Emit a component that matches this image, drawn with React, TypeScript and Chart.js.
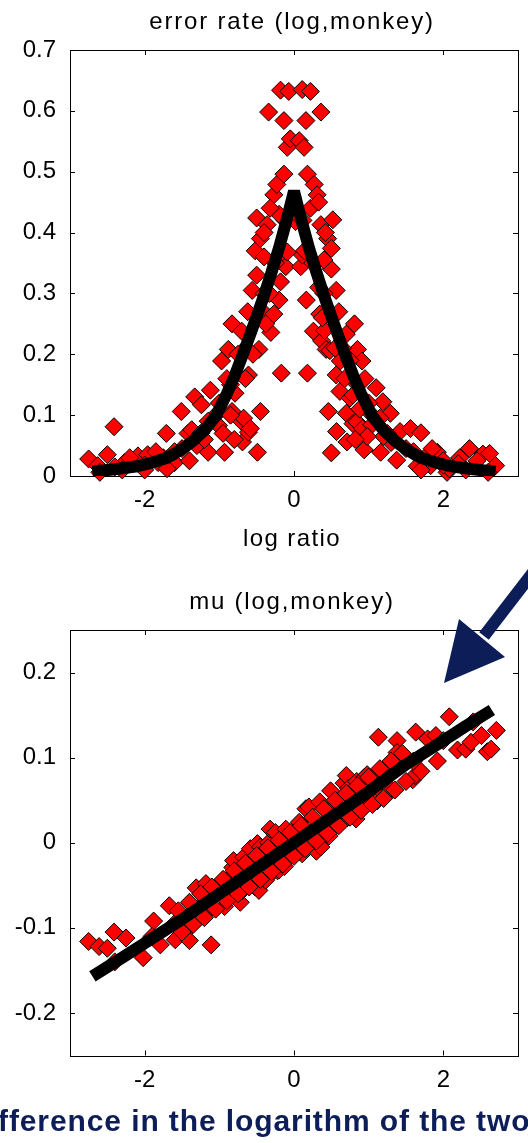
import React, { useEffect, useRef } from 'react';
import { Chart, registerables } from 'chart.js';

Chart.register(...registerables);

const FONT = '"Liberation Sans", Arial, Helvetica, sans-serif';

// ---------- error rate (log, monkey) ----------
const errPointX = [
  -2.75, -2.63, -2.5, -2.41, -2.27, -2.09, -1.96, -1.82, -1.71, -1.6, -1.51, -1.42, -1.4, -1.37, -1.33, -1.24,
  -1.15, -1.12, -1.01, -0.97, -0.93, -0.88, -0.83, -0.83, -0.79, -0.7, -0.7, -0.69, -0.675, -0.61, -0.61, -0.585,
  -0.56, -0.52, -0.5, -0.49, -0.47, -0.45, -0.45, -0.43, -0.36, -0.34, -0.31, -0.27, -0.27, -0.23, -0.2, -0.18,
  -0.18, -0.17, -0.157, -0.135, -0.135, -0.11, -0.09, -0.09, -0.07, -0.05,
  -2.6, -2.3, -2.0, -1.75, -1.5, -1.25, -1.05, -0.85, -0.65, -0.4, -0.25, -0.12,
  -0.62, -0.5, -0.4, -0.33, -0.38, -0.55, -0.65, -0.75, -0.9, -1.0, -1.15, -0.85, -1.3, -1.6, -1.85, -2.2,
  -2.4, -2.0, -1.7, -1.2, -0.95, -0.8, -0.2, -0.32, -0.4,
  0.02, 0.07, 0.09, 0.11, 0.114, 0.14, 0.135, 0.16, 0.165, 0.18, 0.18, 0.22, 0.26, 0.27, 0.31, 0.345,
  0.36, 0.36, 0.37, 0.41, 0.43, 0.45, 0.46, 0.48, 0.5, 0.5, 0.52, 0.565, 0.565, 0.57, 0.615, 0.62,
  0.7, 0.7, 0.71, 0.75, 0.79, 0.79, 0.81, 0.85, 0.84, 0.91, 0.92, 0.94, 1.04, 1.1, 1.16, 1.19,
  1.29, 1.375, 1.42, 1.56, 1.65, 1.7, 1.83, 1.92, 2.05, 2.08, 2.22, 2.35, 2.53, 2.62, 2.7,
  0.12, 0.25, 0.4, 0.65, 0.85, 1.05, 1.25, 1.5, 1.75, 2.0, 2.3, 2.6,
  0.6, 0.5, 0.4, 0.33, 0.38, 0.55, 0.68, 0.75, 0.95, 1.0, 1.15, 0.88, 1.3, 1.6, 1.85, 2.2,
  2.45, 2.0, 1.7, 1.2, 0.98, 0.82, 0.22, 0.33, 0.42,
];
const errPointY = [
  0.028, 0.017, 0.035, 0.081, 0.022, 0.033, 0.035, 0.022, 0.07, 0.022, 0.106, 0.07, 0.025, 0.076, 0.13, 0.117,
  0.039, 0.141, 0.083, 0.189, 0.039, 0.208, 0.25, 0.106, 0.136, 0.238, 0.089, 0.056, 0.095, 0.166, 0.072, 0.078,
  0.305, 0.37, 0.424, 0.039, 0.208, 0.39, 0.106, 0.272, 0.413, 0.598, 0.236, 0.462, 0.266, 0.479, 0.289, 0.634,
  0.319, 0.169, 0.363, 0.584, 0.496, 0.344, 0.54, 0.368, 0.632, 0.554,
  0.006, 0.01, 0.018, 0.03, 0.045, 0.07, 0.1, 0.15, 0.21, 0.3, 0.35, 0.42,
  0.27, 0.33, 0.36, 0.3, 0.25, 0.2, 0.16, 0.2, 0.16, 0.12, 0.09, 0.1, 0.05, 0.04, 0.04, 0.03,
  0.015, 0.01, 0.012, 0.06, 0.07, 0.06, 0.43, 0.44, 0.4,
  0.418, 0.551, 0.344, 0.635, 0.363, 0.37, 0.54, 0.584, 0.289, 0.496, 0.169, 0.632, 0.238, 0.479, 0.462, 0.266,
  0.598, 0.413, 0.222, 0.239, 0.208, 0.39, 0.106, 0.206, 0.374, 0.038, 0.421, 0.305, 0.166, 0.073, 0.139, 0.189,
  0.233, 0.103, 0.056, 0.128, 0.133, 0.086, 0.25, 0.208, 0.089, 0.189, 0.078, 0.043, 0.084, 0.145, 0.039, 0.122,
  0.103, 0.026, 0.073, 0.078, 0.016, 0.071, 0.017, 0.039, 0.006, 0.012, 0.03, 0.045, 0.036, 0.037, 0.017,
  0.42, 0.35, 0.3, 0.21, 0.15, 0.1, 0.07, 0.045, 0.03, 0.018, 0.01, 0.006,
  0.27, 0.34, 0.355, 0.31, 0.26, 0.21, 0.16, 0.19, 0.16, 0.12, 0.095, 0.11, 0.055, 0.04, 0.045, 0.02,
  0.025, 0.025, 0.01, 0.065, 0.065, 0.06, 0.44, 0.45, 0.4,
];
const errFitX = [
  -2.7, -2.4, -2.1, -1.9, -1.7, -1.5, -1.35, -1.2, -1.05, -0.9, -0.8, -0.7, -0.6, -0.5, -0.4, -0.3, -0.2, -0.1, 0,
  0.1, 0.2, 0.3, 0.4, 0.5, 0.6, 0.7, 0.8, 0.9, 1.05, 1.2, 1.35, 1.5, 1.7, 1.9, 2.1, 2.4, 2.7,
];
const errFitY = [
  0.007, 0.011, 0.016, 0.022, 0.03, 0.044, 0.058, 0.075, 0.098, 0.135, 0.163, 0.195, 0.228, 0.262, 0.297, 0.335, 0.375, 0.42, 0.468,
  0.42, 0.375, 0.335, 0.297, 0.262, 0.228, 0.195, 0.163, 0.135, 0.098, 0.075, 0.058, 0.044, 0.03, 0.022, 0.016, 0.011, 0.007,
];
const errYTicks = [0, 0.1, 0.2, 0.3, 0.4, 0.5, 0.6, 0.7];

// ---------- mu (log, monkey) ----------
const muPointX = [
  -2.75, -2.61, -2.5, -2.41, -2.25, -2.02, -1.88, -1.79, -1.67, -1.59, -1.4, -1.37, -1.31, -1.18, -1.11, -1.125,
  -1.04, -0.93, -0.9, -0.82, -0.81, -0.72, -0.69, -0.675, -0.585, -0.52, -0.52, -0.49, -0.47, -0.45, -0.38, -0.34,
  -0.32, -0.27, -0.25, -0.22, -0.2, -0.13, -0.11, -0.11, -0.01,
  0.07, 0.11, 0.16, 0.2, 0.3, 0.345, 0.36, 0.47, 0.48, 0.49, 0.54, 0.57, 0.67, 0.7, 0.71, 0.73, 0.76, 0.83,
  0.84, 0.84, 0.93, 0.945, 0.98, 1.02, 1.06, 1.11, 1.13, 1.16, 1.19, 1.25, 1.29, 1.38, 1.38, 1.5, 1.59, 1.62,
  1.63, 1.7, 1.79, 1.9, 1.92, 2.08, 2.19, 2.3, 2.37, 2.51, 2.59, 2.64, 2.71,
  -2.4, -1.9, -1.6, -1.2, -0.8, -0.6, -0.3, 0, 0.3, 0.6, 0.9, 1.2, 1.6, 2.0, 2.4,
  -1.55, -1.4, -1.25, -1.1, -0.95, -0.8, -0.65, -0.5, -0.35, -0.2, -0.05, 0.1, 0.25, 0.4, 0.55, 0.7,
  0.85, 1.0, 1.15, 1.3, 1.45,
  -1.5, -1.35, -1.2, -1.05, -0.9, -0.75, -0.6, -0.45, -0.3, -0.15, 0.0, 0.15, 0.3, 0.45, 0.6, 0.75,
  0.9, 1.05, 1.2, 1.35, 1.5,
];
const muPointY = [
  -0.116, -0.122, -0.124, -0.105, -0.112, -0.135, -0.092, -0.12, -0.074, -0.114, -0.115, -0.097, -0.053, -0.048, -0.12, -0.078,
  -0.052, -0.075, -0.045, -0.029, -0.021, -0.07, -0.056, -0.017, -0.007, -0.052, -0.02, -0.001, -0.056, -0.005, -0.044, 0.0,
  0.016, -0.033, 0.012, -0.033, -0.032, -0.028, -0.013, 0.016, 0.009,
  0.024, -0.013, 0.04, 0.042, -0.01, 0.048, -0.005, 0.008, 0.017, 0.061, 0.042, 0.033, 0.07, 0.079, 0.029, 0.064, 0.034, 0.028,
  0.072, 0.045, 0.041, 0.077, 0.08, 0.053, 0.055, 0.049, 0.124, 0.084, 0.059, 0.057, 0.064, 0.12, 0.106, 0.1, 0.074, 0.079,
  0.13, 0.084, 0.122, 0.126, 0.096, 0.148, 0.109, 0.11, 0.118, 0.126, 0.107, 0.11, 0.132,
  -0.14, -0.11, -0.095, -0.07, -0.048, -0.036, -0.018, 0, 0.018, 0.036, 0.055, 0.073, 0.096, 0.12, 0.142,
  -0.08, -0.07, -0.06, -0.052, -0.043, -0.033, -0.024, -0.015, -0.006, 0.003, 0.012, 0.02, 0.03, 0.04, 0.05, 0.058,
  0.067, 0.077, 0.087, 0.096, 0.105,
  -0.105, -0.096, -0.088, -0.078, -0.068, -0.06, -0.052, -0.043, -0.034, -0.025, -0.016, -0.007, 0.002, 0.011, 0.02, 0.03,
  0.038, 0.045, 0.052, 0.062, 0.072,
];
const muFitX = [-2.7, -2.3, -2.0, -1.5, -1.0, -0.5, 0, 0.5, 1.0, 1.5, 2.0, 2.3, 2.65];
const muFitY = [-0.157, -0.135, -0.118, -0.09, -0.06, -0.03, 0, 0.03, 0.06, 0.092, 0.12, 0.137, 0.156];
const muYTicks = [-0.2, -0.1, 0, 0.1, 0.2];

const xTicks = [-2, 0, 2];

type PanelSpec = {
  title: string;
  titleY: number;
  xlabel?: string;
  xlabelY?: number;
  arrowOffset?: number;
};

function framePlugin(spec: PanelSpec) {
  return {
    id: 'matlabFrame',
    beforeDatasetsDraw(chart: any) {
      const { ctx, chartArea } = chart;
      const { left, right, top, bottom } = chartArea;
      ctx.save();
      ctx.strokeStyle = '#000';
      ctx.lineWidth = 1;
      ctx.strokeRect(Math.round(left) + 0.5, Math.round(top) + 0.5, Math.round(right - left), Math.round(bottom - top));
      const tl = 5;
      ctx.beginPath();
      for (const t of chart.scales.x.ticks) {
        const px = Math.round(chart.scales.x.getPixelForValue(t.value)) + 0.5;
        ctx.moveTo(px, bottom);
        ctx.lineTo(px, bottom - tl);
        ctx.moveTo(px, top);
        ctx.lineTo(px, top + tl);
      }
      for (const t of chart.scales.y.ticks) {
        const py = Math.round(chart.scales.y.getPixelForValue(t.value)) + 0.5;
        ctx.moveTo(left, py);
        ctx.lineTo(left + tl, py);
        ctx.moveTo(right, py);
        ctx.lineTo(right - tl, py);
      }
      ctx.stroke();
      ctx.restore();
    },
    afterDraw(chart: any) {
      const { ctx } = chart;
      ctx.save();
      ctx.fillStyle = '#000';
      ctx.textAlign = 'center';
      ctx.textBaseline = 'alphabetic';
      ctx.font = `24px ${FONT}`;
      (ctx as any).letterSpacing = '1.8px';
      ctx.fillText(spec.title, 292, spec.titleY);
      if (spec.xlabel) {
        (ctx as any).letterSpacing = '1.4px';
        ctx.fillText(spec.xlabel, 292, spec.xlabelY as number);
      }
      (ctx as any).letterSpacing = '0px';
      if (spec.arrowOffset !== undefined) {
        const o = spec.arrowOffset;
        ctx.fillStyle = '#0c1d58';
        ctx.strokeStyle = '#0c1d58';
        ctx.lineWidth = 12;
        ctx.lineCap = 'butt';
        ctx.beginPath();
        ctx.moveTo(484, 636 - o);
        ctx.lineTo(548, 553 - o);
        ctx.stroke();
        ctx.beginPath();
        ctx.moveTo(444, 683 - o);
        ctx.lineTo(459, 619 - o);
        ctx.lineTo(505, 657 - o);
        ctx.closePath();
        ctx.fill();
      }
      ctx.restore();
    },
  };
}

function buildConfig(
  px: number[], py: number[], fx: number[], fy: number[],
  yMin: number, yMax: number, yTicks: number[],
  padTop: number, xAxisH: number, spec: PanelSpec
) {
  return {
    type: 'scatter' as const,
    data: {
      datasets: [
        {
          label: 'fit',
          data: fx.map((x, i) => ({ x, y: fy[i] })),
          showLine: true,
          borderColor: '#000',
          backgroundColor: '#000',
          borderWidth: 12,
          borderJoinStyle: 'bevel' as const,
          pointRadius: 0,
          tension: 0,
          order: 0,
        },
        {
          label: 'data',
          data: px.map((x, i) => ({ x, y: py[i] })),
          pointStyle: 'rectRot' as const,
          pointRadius: 9,
          pointBackgroundColor: '#ff0000',
          pointBorderColor: '#000',
          pointBorderWidth: 1,
          showLine: false,
          clip: false,
          order: 1,
        },
      ],
    },
    options: {
      animation: false as const,
      responsive: false,
      maintainAspectRatio: false,
      devicePixelRatio: 1,
      layout: { padding: { left: 0, right: 7, top: padTop, bottom: 0 } },
      plugins: { legend: { display: false }, tooltip: { enabled: false }, title: { display: false } },
      scales: {
        x: {
          type: 'linear' as const,
          min: -3,
          max: 3,
          afterBuildTicks: (s: any) => { s.ticks = xTicks.map((v) => ({ value: v })); },
          afterFit: (s: any) => { s.height = xAxisH; },
          grid: { display: false, drawTicks: false },
          border: { display: false },
          ticks: { color: '#000', font: { family: FONT, size: 24 }, padding: 10, maxRotation: 0, autoSkip: false },
        },
        y: {
          type: 'linear' as const,
          min: yMin,
          max: yMax,
          afterBuildTicks: (s: any) => { s.ticks = yTicks.map((v) => ({ value: v })); },
          afterFit: (s: any) => { s.width = 70; },
          grid: { display: false, drawTicks: false },
          border: { display: false },
          ticks: { color: '#000', font: { family: FONT, size: 24 }, padding: 14, autoSkip: false },
        },
      },
    },
    plugins: [framePlugin(spec)],
  };
}

function Panel(props: { top: number; height: number; config: any }) {
  const ref = useRef<HTMLCanvasElement | null>(null);
  useEffect(() => {
    if (!ref.current) return;
    const chart = new Chart(ref.current, props.config);
    return () => chart.destroy();
  }, []);
  return (
    <canvas
      ref={ref}
      width={528}
      height={props.height}
      style={{ position: 'absolute', left: 0, top: props.top, width: 528, height: props.height }}
    />
  );
}

export default function App() {
  const topCfg = buildConfig(
    errPointX, errPointY, errFitX, errFitY, 0, 0.7, errYTicks, 50, 84,
    { title: 'error rate (log,monkey)', titleY: 29, xlabel: 'log ratio', xlabelY: 546 }
  );
  const botCfg = buildConfig(
    muPointX, muPointY, muFitX, muFitY, -0.25, 0.25, muYTicks, 90, 87.5,
    { title: 'mu (log,monkey)', titleY: 69, arrowOffset: 540 }
  );
  return (
    <div
      style={{
        position: 'absolute', left: 0, top: 0, width: 528, height: 1143,
        overflow: 'hidden', background: '#fff',
      }}
    >
      <Panel top={0} height={560} config={topCfg} />
      <Panel top={540} height={603} config={botCfg} />
      <div
        style={{
          position: 'absolute', left: -2, top: 1106, whiteSpace: 'nowrap',
          font: `bold 30px ${FONT}`, lineHeight: '30px', letterSpacing: '0.9px', color: '#0c1d58',
        }}
      >
        fference in the logarithm of the two
      </div>
    </div>
  );
}
